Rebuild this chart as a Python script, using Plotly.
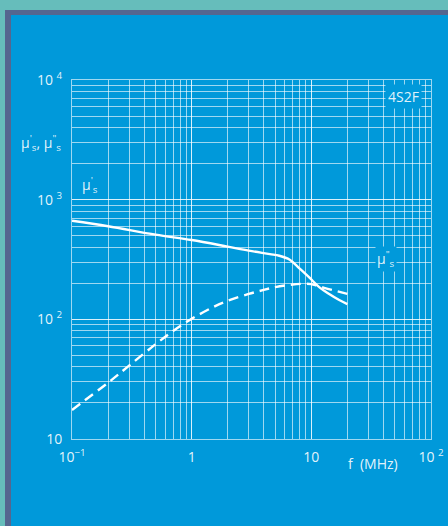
import plotly.graph_objects as go

# permeability spectrum of the 4S2F ferrite
freq_real = [0.1, 0.2, 0.5, 1, 2, 3, 4.5, 5.4, 6.6, 7.9, 9.6, 11.7, 14.1, 17.1, 20]
mu_real = [667, 600, 510, 460, 405, 375, 351, 340, 315, 268, 224, 185, 163, 145, 134]

freq_imag = [0.1, 0.2, 0.3, 0.5, 0.7, 1, 1.5, 2, 3, 4, 5, 6.6, 8.2, 10, 11.3, 13.7, 16.6, 20]
mu_imag = [17.5, 29.5, 41, 62, 80, 101, 126, 143, 163, 176, 186, 194, 198, 197, 190, 180, 171, 163]

x_tickvals = [0.1, 1, 10, 100]
x_ticktext = ["10<sup>\u22121</sup>", "1", "10", "10 <sup>2</sup>"]
y_tickvals = [10, 100, 1000, 10000]
y_ticktext = ["10", "10 <sup>2</sup>", "10 <sup>3</sup>", "10 <sup>4</sup>"]

BLUE = "#0099da"
TEAL = "#66bdbb"
FRAME = "#55668f"
GRID = "rgba(255,255,255,0.62)"
TXT = "rgba(255,255,255,0.9)"
FONT = "Open Sans"

W, H = 448, 526
L, R, T, B = 72, 17, 80, 87
pw, ph = W - L - R, H - T - B


def px(x):
    return (x - L) / pw


def py(y):
    return 1 - (y - T) / ph


fig = go.Figure()
fig.add_trace(go.Scatter(
    x=freq_real, y=mu_real, mode="lines", line_shape="spline",
    line=dict(color="white", width=2.4), hoverinfo="skip",
))
fig.add_trace(go.Scatter(
    x=freq_imag, y=mu_imag, mode="lines", line_shape="spline",
    line=dict(color="white", width=2.4, dash="10px,6px"), hoverinfo="skip",
))

axis = dict(
    type="log", showgrid=True, gridcolor=GRID, gridwidth=1,
    minor=dict(showgrid=True, gridcolor=GRID, gridwidth=1, dtick="D1"),
    showline=True, mirror=True, linecolor=GRID, linewidth=1,
    zeroline=False, ticks="", tickfont=dict(family=FONT, size=14, color=TXT),
    fixedrange=True, automargin=False,
)
fig.update_xaxes(**axis, range=[-1, 2], tickvals=x_tickvals, ticktext=x_ticktext,
                 ticklabelstandoff=5)
fig.update_yaxes(**axis, range=[1, 4], tickvals=y_tickvals, ticktext=y_ticktext,
                 ticklabelstandoff=6)

# teal page edge and grey-purple frame strip along the top and left only
for x0, x1, y0, y1, colour in [
    (-20, W + 20, -20, 10, TEAL),
    (-20, 5, -20, H + 20, TEAL),
    (5, W + 20, 10, 15, FRAME),
    (5, 11, 10, H + 20, FRAME),
]:
    fig.add_shape(type="rect", xref="paper", yref="paper", layer="below",
                  x0=px(x0), x1=px(x1), y0=py(y0), y1=py(y1),
                  fillcolor=colour, line_width=0)

ann_font = dict(family=FONT, size=14, color=TXT)


def label(x, y, text, **kw):
    fig.add_annotation(x=px(x), y=py(y), xref="paper", yref="paper", text=text,
                       xanchor="center", yanchor="middle", showarrow=False,
                       font=ann_font, **kw)


label(403, 97, "4S2F", bgcolor=BLUE, borderpad=2)
label(41, 143, "\u03bc<sup>'</sup><sub>s</sub>, \u03bc<sup>\"</sup><sub>s</sub>")
label(90, 185, "\u03bc<sup>'</sup><sub>s</sub>")
label(386, 259, "\u03bc<sup>\"</sup><sub>s</sub>", bgcolor=BLUE, borderpad=1)
label(373, 463, "f  (MHz)")

fig.update_layout(
    width=W, height=H, margin=dict(l=L, r=R, t=T, b=B, autoexpand=False),
    paper_bgcolor=BLUE, plot_bgcolor="rgba(0,0,0,0)",
    showlegend=False, font=dict(family=FONT, color=TXT),
)

fig.write_html("out.html", config={"displayModeBar": False},
               post_script="document.body.style.margin='0';document.body.style.overflow='hidden';")
